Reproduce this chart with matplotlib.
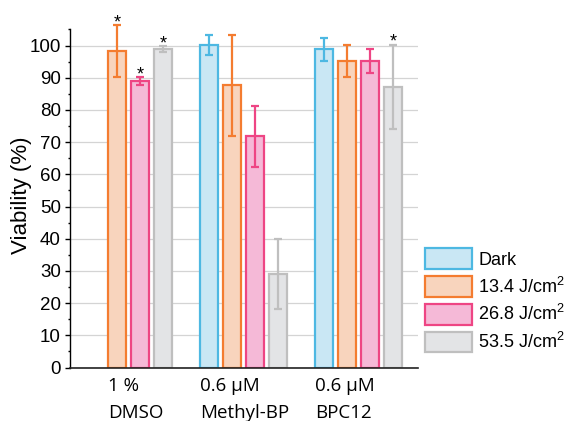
import matplotlib
matplotlib.use("Agg")
from matplotlib import pyplot as plt
from matplotlib.patches import Patch
from matplotlib.ticker import MultipleLocator
import numpy as np

plt.rcParams['font.family'] = ['Liberation Sans', 'DejaVu Sans']
plt.rcParams['mathtext.fontset'] = 'custom'
plt.rcParams['mathtext.rm'] = 'Liberation Sans'
plt.rcParams['mathtext.it'] = 'Liberation Sans:italic'

# data
groups_top = ["1 %", "0.6 μM", "0.6 μM"]
groups_bottom = ["DMSO", "Methyl-BP", "BPC12"]
series = ["Dark", "13.4 J/cm$^2$", "26.8 J/cm$^2$", "53.5 J/cm$^2$"]

dark = [np.nan, 100.3, 98.9]
dose_13 = [98.2, 87.6, 95.2]
dose_26 = [88.9, 71.8, 95.1]
dose_53 = [98.9, 29.0, 87.2]

dark_err = [np.nan, 3.1, 3.6]
dose_13_err = [8.1, 15.7, 5.0]
dose_26_err = [1.2, 9.4, 3.7]
dose_53_err = [0.9, 10.8, 13.1]

# significance stars (1 = marked)
stars_13 = [1, 0, 0]
stars_26 = [1, 0, 0]
stars_53 = [1, 0, 1]
stars_dark = [0, 0, 0]

values = [dark, dose_13, dose_26, dose_53]
errors = [dark_err, dose_13_err, dose_26_err, dose_53_err]
stars = [stars_dark, stars_13, stars_26, stars_53]

edge_colors = ['#4db8e2', '#f47c30', '#ee4584', '#bfbfbf']
face_colors = ['#c9e7f4', '#f8d4bd', '#f5b9d7', '#e3e4e6']

fig = plt.figure(figsize=(5.79, 4.21), dpi=100)
ax = fig.add_axes([0.121, 0.127, 0.601, 0.803])

centers = np.array([0, 5, 10])
offsets = [-1.5, -0.5, 0.5, 1.5]
w = 0.8

for k in range(4):
    xs = centers + offsets[k]
    for i in range(3):
        v = values[k][i]
        if np.isnan(v):
            continue
        ax.bar(xs[i], v, width=w, color=face_colors[k], edgecolor=edge_colors[k],
               linewidth=1.6, zorder=2)
        eb = ax.errorbar(xs[i], v, yerr=errors[k][i], color=edge_colors[k], elinewidth=1.6,
                         capsize=3, capthick=1.6, zorder=3)
        for art in eb.lines[1] + eb.lines[2]:
            art.set_clip_on(False)
        if stars[k][i]:
            ax.annotate("*", (xs[i], v + errors[k][i]), xytext=(0, -1.5),
                        textcoords='offset points', ha='center', va='baseline',
                        fontsize=13, color='black', zorder=4, annotation_clip=False)

ax.set_xlim(-2.54, 12.59)
ax.set_ylim(0, 105)
ax.yaxis.set_major_locator(MultipleLocator(10))
ax.yaxis.set_minor_locator(MultipleLocator(5))
ax.set_xticks([])
ax.tick_params(axis='y', which='major', direction='out', length=3.6, width=1,
               labelsize=13.5, pad=3)
ax.tick_params(axis='y', which='minor', direction='out', length=1.8, width=1)
ax.grid(axis='y', which='major', color='#d4d4d4', linewidth=0.9)
ax.set_axisbelow(True)
for s in ['top', 'right']:
    ax.spines[s].set_visible(False)
ax.spines['left'].set_linewidth(1.0)
ax.spines['bottom'].set_linewidth(1.2)
ax.spines['bottom'].set_color('#222222')

ax.set_ylabel("Viability (%)", fontsize=16)
ax.yaxis.set_label_coords(-0.11, 0.51)

# category labels, left aligned at the first bar of each group
label_x = [centers[0] + offsets[1] - w / 2, centers[1] + offsets[0] - w / 2,
           centers[2] + offsets[0] - w / 2]
trans = ax.get_xaxis_transform()
for i in range(3):
    ax.text(label_x[i], -0.054, groups_top[i], transform=trans, ha='left', va='center',
            fontsize=13.5, family=['Open Sans', 'DejaVu Sans'])
    ax.text(label_x[i], -0.134, groups_bottom[i], transform=trans, ha='left', va='center',
            fontsize=13.5, family=['Open Sans', 'DejaVu Sans'])

handles = [Patch(facecolor=face_colors[k], edgecolor=edge_colors[k], linewidth=1.6)
           for k in range(4)]
fig.legend(handles, series, loc='upper left', bbox_to_anchor=(0.734, 0.41),
           frameon=False, fontsize=13, handlelength=2.6, handleheight=1.4,
           labelspacing=0.38, handletextpad=0.35, borderaxespad=0, borderpad=0)

fig.savefig("out.png", dpi=100)
